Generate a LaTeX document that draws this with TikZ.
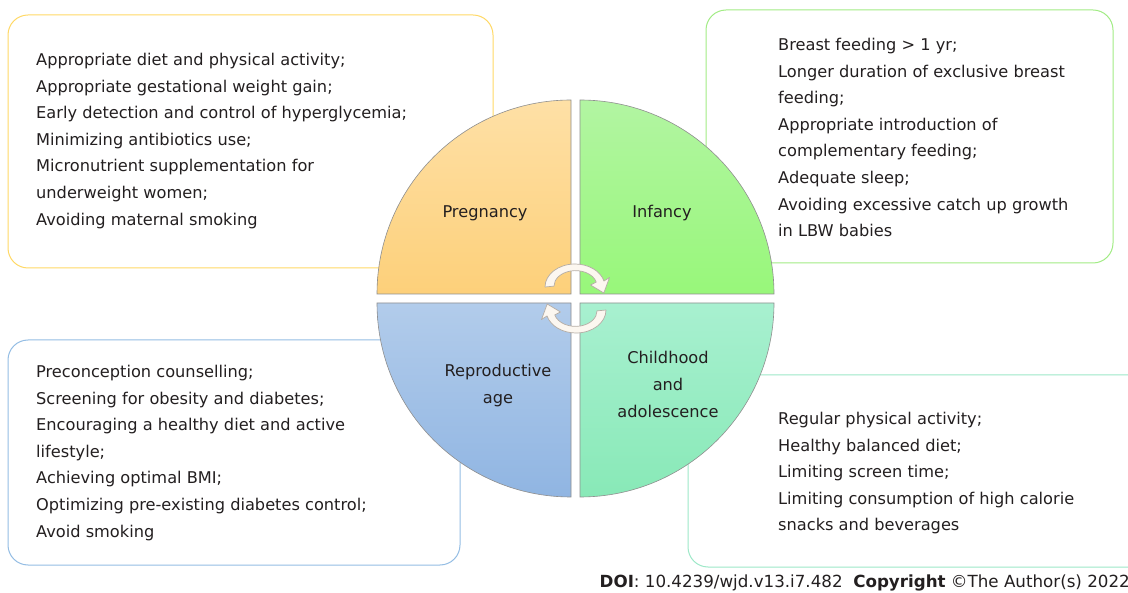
\documentclass[tikz,border=0pt]{standalone}
\usepackage{fontspec}
\setmainfont{DejaVu Sans}
\usetikzlibrary{positioning}
\definecolor{textgray}{HTML}{231F20}
\definecolor{quartergray}{HTML}{8F8F8F}
\definecolor{arrowgray}{HTML}{B5ADA5}
\definecolor{arrowfill}{HTML}{FCF7F0}
\definecolor{pregline}{HTML}{FFD966}
\definecolor{infline}{HTML}{A2EC85}
\definecolor{repline}{HTML}{94BDE4}
\definecolor{childline}{HTML}{9EE8C8}
\definecolor{pregtop}{HTML}{FEE0A6}
\definecolor{pregbot}{HTML}{FDD07A}
\definecolor{inftop}{HTML}{B2F5A2}
\definecolor{infbot}{HTML}{98F77A}
\definecolor{reptop}{HTML}{B2CCEB}
\definecolor{repbot}{HTML}{90B5E2}
\definecolor{childtop}{HTML}{A8F0D0}
\definecolor{childbot}{HTML}{88E9B7}
\tikzstyle{info_box} = [
    rounded corners=20pt, 
    line width=1pt, 
    fill=white
]
\tikzstyle{info_text} = [
    anchor=north west, 
    align=left, 
    inner sep=0pt, 
    text=textgray, 
    font=\fontsize{16.2}{26.6}\selectfont
]
\tikzstyle{stage_label} = [
    align=center, 
    inner sep=0pt, 
    text=textgray, 
    font=\fontsize{16.2}{26.6}\selectfont
]
\tikzstyle{quarter} = [
    draw=quartergray, 
    line width=0.6pt
]
\tikzstyle{cycle_arrow} = [
    draw=arrowgray, 
    fill=arrowfill, 
    line width=0.7pt, 
    line join=round
]

\begin{document}
\begin{tikzpicture}[x=1pt, y=1pt]
\useasboundingbox (0,0) rectangle (1128,-593);
\clip (0,0) rectangle (1128,-593);
\fill[white] (0,0) rectangle (1128,-593);

% boxes behind the circle
\draw[info_box, draw=pregline] (8,-15) rectangle (493,-268);
\draw[info_box, draw=infline] (706,-10) rectangle (1113,-263);
\draw[info_box, draw=repline] (8,-340) rectangle (460,-565);
\draw[info_box, draw=childline] (688,-375) rectangle (1150,-567);

\node [info_text] (preg_text) at (36,-53) {
    Appropriate diet and physical activity;\\
    Appropriate gestational weight gain;\\
    Early detection and control of hyperglycemia;\\
    Minimizing antibiotics use;\\
    Micronutrient supplementation for\\
    underweight women;\\
    Avoiding maternal smoking};
\node [info_text] (inf_text) at (778,-38) {
    Breast feeding > 1 yr;\\
    Longer duration of exclusive breast\\
    feeding;\\
    Appropriate introduction of\\
    complementary feeding;\\
    Adequate sleep;\\
    Avoiding excessive catch up growth\\
    in LBW babies};
\node [info_text] (rep_text) at (36,-365) {
    Preconception counselling;\\
    Screening for obesity and diabetes;\\
    Encouraging a healthy diet and active\\
    lifestyle;\\
    Achieving optimal BMI;\\
    Optimizing pre-existing diabetes control;\\
    Avoid smoking};
\node [info_text] (child_text) at (778,-412) {
    Regular physical activity;\\
    Healthy balanced diet;\\
    Limiting screen time;\\
    Limiting consumption of high calorie\\
    snacks and beverages};

% the four quarters
\path[quarter, top color=pregtop, bottom color=pregbot]
    (571,-294) -- (377,-294) arc[start angle=180, end angle=90, radius=194] -- cycle;
\path[quarter, top color=inftop, bottom color=infbot]
    (580,-294) -- (580,-100) arc[start angle=90, end angle=0, radius=194] -- cycle;
\path[quarter, top color=reptop, bottom color=repbot]
    (571,-303) -- (571,-497) arc[start angle=270, end angle=180, radius=194] -- cycle;
\path[quarter, top color=childtop, bottom color=childbot]
    (580,-303) -- (774,-303) arc[start angle=0, end angle=-90, radius=194] -- cycle;

\node [stage_label] (pregnancy) at (485,-213) {Pregnancy};
\node [stage_label] (infancy) at (662,-213) {Infancy};
\node [stage_label] (reproductive) at (498,-385.5) {Reproductive\\age};
\node [stage_label] (childhood) at (668,-384.5) {Childhood\\and\\adolescence};

% cycle arrows
\path[cycle_arrow] (545,-287) arc[start angle=180, end angle=15, x radius=30, y radius=23]
    -- (609.5,-277.5) -- (603.8,-293) -- (590.5,-285) -- (596.25,-282.1)
    arc[start angle=15, end angle=180, x radius=21.5, y radius=15.5] -- cycle;
\begin{scope}[rotate around={180:(575.5,-298.5)}]
\path[cycle_arrow] (545,-287) arc[start angle=180, end angle=15, x radius=30, y radius=23]
    -- (609.5,-277.5) -- (603.8,-293) -- (590.5,-285) -- (596.25,-282.1)
    arc[start angle=15, end angle=180, x radius=21.5, y radius=15.5] -- cycle;
\end{scope}

\node [anchor=east, inner sep=0pt, text=textgray, font=\fontsize{16.7}{19}\selectfont] (doi) at (1130,-583)
    {\textbf{DOI}: 10.4239/wjd.v13.i7.482\ \ \textbf{Copyright} ©The Author(s) 2022};
\end{tikzpicture}
\end{document}
